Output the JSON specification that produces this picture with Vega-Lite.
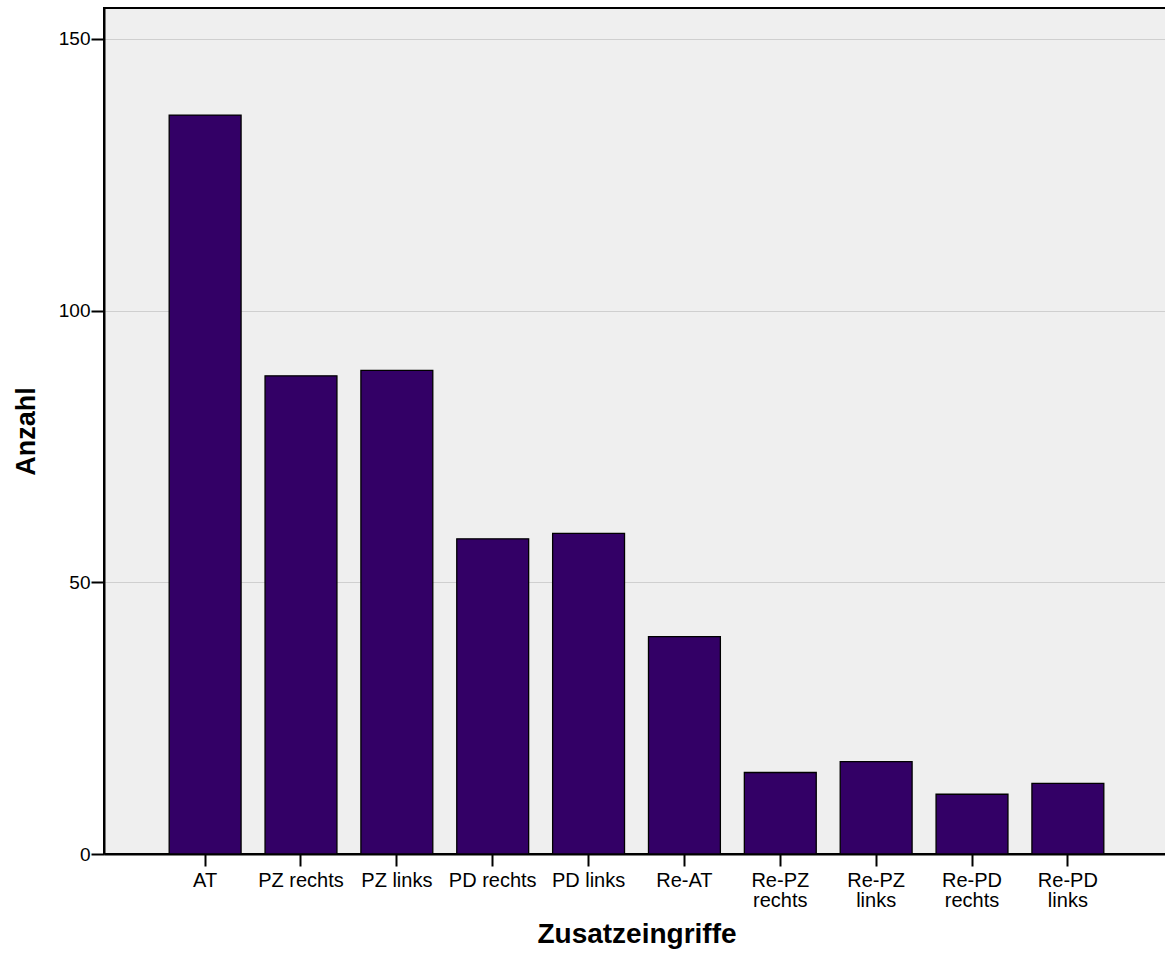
{
  "$schema": "https://vega.github.io/schema/vega-lite/v6.json",
  "autosize": {"type": "none"},
  "padding": {"left": 104, "top": 8, "right": 0, "bottom": 100},
  "width": 1065,
  "height": 846,
  "background": "#ffffff",
  "config": {
    "font": "Liberation Sans",
    "view": {"fill": "#efefef", "stroke": "#000000", "strokeWidth": 2},
    "axis": {
      "labelFont": "Liberation Sans",
      "labelFontSize": 19,
      "labelColor": "#000000",
      "titleFont": "Liberation Sans",
      "titleFontSize": 27,
      "titleFontWeight": "bold",
      "titleColor": "#000000",
      "domainColor": "#000000",
      "domainWidth": 2,
      "tickColor": "#000000",
      "tickWidth": 2
    }
  },
  "data": {
    "values": [
      {"Zusatzeingriffe": "AT", "Anzahl": 136},
      {"Zusatzeingriffe": "PZ rechts", "Anzahl": 88},
      {"Zusatzeingriffe": "PZ links", "Anzahl": 89},
      {"Zusatzeingriffe": "PD rechts", "Anzahl": 58},
      {"Zusatzeingriffe": "PD links", "Anzahl": 59},
      {"Zusatzeingriffe": "Re-AT", "Anzahl": 40},
      {"Zusatzeingriffe": "Re-PZ rechts", "Anzahl": 15},
      {"Zusatzeingriffe": "Re-PZ links", "Anzahl": 17},
      {"Zusatzeingriffe": "Re-PD rechts", "Anzahl": 11},
      {"Zusatzeingriffe": "Re-PD links", "Anzahl": 13}
    ]
  },
  "mark": {"type": "bar", "fill": "#330066", "stroke": "#000000", "strokeWidth": 1.3},
  "encoding": {
    "x": {
      "field": "Zusatzeingriffe",
      "type": "nominal",
      "sort": null,
      "scale": {"paddingInner": 0.25, "paddingOuter": 0.68},
      "axis": {
        "title": "Zusatzeingriffe",
        "titleFontSize": 28,
        "labelFontSize": 20,
        "labelAngle": 0,
        "labelExpr": "indexof(datum.value, 'Re-P') == 0 ? split(datum.value, ' ') : datum.value",
        "labelLineHeight": 20,
        "tickSize": 12,
        "labelPadding": 4,
        "titlePadding": 10,
        "grid": false
      }
    },
    "y": {
      "field": "Anzahl",
      "type": "quantitative",
      "scale": {"domain": [0, 155.7], "nice": false, "zero": true},
      "axis": {
        "title": "Anzahl",
        "values": [0, 50, 100, 150],
        "tickSize": 13,
        "labelPadding": 1,
        "titlePadding": 18,
        "grid": true,
        "gridColor": "#cfcfcf",
        "gridWidth": 1
      }
    }
  }
}
